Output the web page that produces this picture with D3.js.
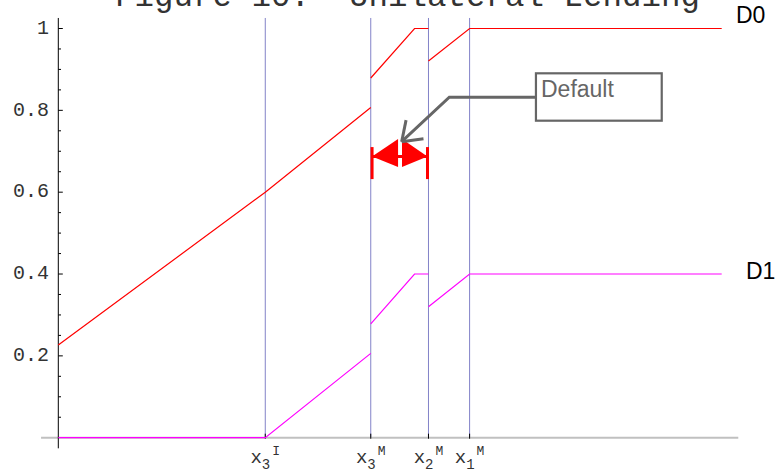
<!DOCTYPE html>
<html>
<head>
<meta charset="utf-8">
<script src="https://cdn.jsdelivr.net/npm/d3@7"></script>
<style>
  body { margin: 0; background: #fff; }
  .visual { width: 775px; height: 473px; position: relative; }
</style>
</head>
<body>
<div class="visual"></div>
<script>
// chart values
const titleText = "Figure 10:  Unilateral Lending";

const keyX = [31.2, 47.1, 55.8, 62.0];
const keySub = ["3", "3", "2", "1"];
const keySup = ["I", "M", "M", "M"];

const yMajor = [0.2, 0.4, 0.6, 0.8, 1];
const yMajorLabels = ["0.2", "0.4", "0.6", "0.8", "1"];
const yMinor = [0.05, 0.1, 0.15, 0.25, 0.3, 0.35, 0.45, 0.5, 0.55, 0.65, 0.7, 0.75, 0.85, 0.9, 0.95];

// null breaks the line at a jump
const d0X = [0, 31.2, 47.1, null, 47.1, 53.7, 55.8, null, 55.8, 62.0, 100];
const d0Y = [0.2265, 0.6, 0.807, null, 0.879, 1, 1, null, 0.9206, 1, 1];
const d1X = [0, 31.2, 47.1, null, 47.1, 53.7, 55.8, null, 55.8, 62.0, 100];
const d1Y = [0, 0, 0.206, null, 0.278, 0.4, 0.4, null, 0.32, 0.4, 0.4];

const defaultSpan = [47.1, 55.8];
const defaultLevel = 0.687;

function display() {
    const svg = d3.select(".visual")
        .append("svg")
        .attr("width", 775)
        .attr("height", 473);

    const x = d3.scaleLinear().domain([0, 100]).range([58.3, 721.7]);
    const y = d3.scaleLinear().domain([0, 1]).range([437.7, 28.5]);

    const mono = "'Liberation Mono', 'Courier New', monospace";
    const sans = "'Liberation Sans', Arial, sans-serif";

    // title (cut off at the top like the source)
    svg.append("text")
        .attr("x", 115)
        .attr("y", 6)
        .attr("xml:space", "preserve")
        .style("white-space", "pre")
        .style("font-family", mono)
        .style("font-size", "32.5px")
        .style("fill", "#333")
        .text(titleText);

    // vertical reference lines
    svg.append("g").selectAll("line")
        .data(keyX)
        .enter()
        .append("line")
        .attr("x1", d => x(d)).attr("x2", d => x(d))
        .attr("y1", y(1.0257)).attr("y2", y(0))
        .attr("stroke", "#8282c8")
        .attr("stroke-width", 1);

    // x axis
    svg.append("line")
        .attr("x1", x(-2.6)).attr("x2", x(102.5))
        .attr("y1", y(0)).attr("y2", y(0))
        .attr("stroke", "#c0c0c0")
        .attr("stroke-width", 2);

    svg.append("g").selectAll("line")
        .data(keyX)
        .enter()
        .append("line")
        .attr("x1", d => x(d)).attr("x2", d => x(d))
        .attr("y1", y(0) - 4).attr("y2", y(0) + 1)
        .attr("stroke", "#000")
        .attr("stroke-width", 1);

    const xl = svg.append("g").selectAll("text")
        .data(keyX)
        .enter()
        .append("text")
        .attr("x", d => x(d))
        .attr("y", 463)
        .attr("text-anchor", "middle")
        .style("font-family", mono)
        .style("font-size", "19px")
        .style("fill", "#333");
    xl.append("tspan").text("x");
    xl.append("tspan").attr("dy", 6).style("font-size", "14px").text((d, i) => keySub[i]);
    xl.append("tspan").attr("dy", -14).attr("dx", 2).style("font-size", "13px").text((d, i) => keySup[i]);

    // y axis
    svg.append("line")
        .attr("x1", x(0)).attr("x2", x(0))
        .attr("y1", y(-0.026)).attr("y2", y(1.0257))
        .attr("stroke", "#000")
        .attr("stroke-width", 1);

    svg.append("g").selectAll("line")
        .data(yMajor)
        .enter()
        .append("line")
        .attr("x1", x(0)).attr("x2", x(0) + 4.5)
        .attr("y1", d => y(d)).attr("y2", d => y(d))
        .attr("stroke", "#000");

    svg.append("g").selectAll("line")
        .data(yMinor)
        .enter()
        .append("line")
        .attr("x1", x(0)).attr("x2", x(0) + 2.7)
        .attr("y1", d => y(d)).attr("y2", d => y(d))
        .attr("stroke", "#000");

    svg.append("g").selectAll("text")
        .data(yMajor)
        .enter()
        .append("text")
        .attr("x", 49)
        .attr("y", d => y(d))
        .attr("text-anchor", "end")
        .attr("dominant-baseline", "middle")
        .style("font-family", mono)
        .style("font-size", "20px")
        .style("fill", "#333")
        .text((d, i) => yMajorLabels[i]);

    // series
    const line = d3.line()
        .defined(p => p[0] !== null)
        .x(p => x(p[0]))
        .y(p => y(p[1]));

    svg.append("path")
        .attr("d", line(d1X.map((v, i) => [v, d1Y[i]])))
        .attr("fill", "none")
        .attr("stroke", "#ff00ff")
        .attr("stroke-width", 1.2);

    svg.append("path")
        .attr("d", line(d0X.map((v, i) => [v, d0Y[i]])))
        .attr("fill", "none")
        .attr("stroke", "#ff0000")
        .attr("stroke-width", 1.2);

    svg.append("text")
        .attr("x", 736).attr("y", 23)
        .style("font-family", sans)
        .style("font-size", "23px")
        .text("D0");

    svg.append("text")
        .attr("x", 746).attr("y", 279)
        .style("font-family", sans)
        .style("font-size", "23px")
        .text("D1");

    // red double arrow marking the default zone
    const ax0 = x(defaultSpan[0]) + 1.3;
    const ax1 = x(defaultSpan[1]) - 1;
    const ay = y(defaultLevel);
    const red = svg.append("g").attr("fill", "#ff0000").attr("stroke", "#ff0000");
    red.append("line")
        .attr("x1", ax0).attr("x2", ax1).attr("y1", ay).attr("y2", ay)
        .attr("stroke-width", 3);
    [ax0, ax1].forEach(bx => {
        red.append("line")
            .attr("x1", bx).attr("x2", bx).attr("y1", ay - 9.5).attr("y2", ay + 22.5)
            .attr("stroke-width", 3);
    });
    red.append("path")
        .attr("stroke", "none")
        .attr("d", `M${ax0},${ay}L${ax0 + 26},${ay - 17.5}L${ax0 + 26},${ay + 10.5}Z`);
    red.append("path")
        .attr("stroke", "none")
        .attr("d", `M${ax1},${ay}L${ax1 - 25.5},${ay - 17.5}L${ax1 - 25.5},${ay + 10.5}Z`);

    // "Default" callout
    const grey = "#666";
    svg.append("rect")
        .attr("x", x(72.0)).attr("y", y(0.8905))
        .attr("width", x(90.96) - x(72.0))
        .attr("height", y(0.7747) - y(0.8905))
        .attr("fill", "#fff")
        .attr("stroke", grey)
        .attr("stroke-width", 2.2);

    svg.append("text")
        .attr("x", x(72.76)).attr("y", y(0.832))
        .style("font-family", sans)
        .style("font-size", "23px")
        .style("fill", grey)
        .text("Default");

    const tip = [x(51.76), y(0.7234)];
    const elbow = [x(58.94), y(0.832)];
    svg.append("path")
        .attr("d", `M${x(72.0)},${y(0.832)}L${elbow[0]},${elbow[1]}L${tip[0]},${tip[1]}`)
        .attr("fill", "none")
        .attr("stroke", grey)
        .attr("stroke-width", 3);

    const ang = Math.atan2(elbow[1] - tip[1], elbow[0] - tip[0]);
    [-0.62, 0.62].forEach(da => {
        svg.append("line")
            .attr("x1", tip[0]).attr("y1", tip[1])
            .attr("x2", tip[0] + 22 * Math.cos(ang + da))
            .attr("y2", tip[1] + 22 * Math.sin(ang + da))
            .attr("stroke", grey)
            .attr("stroke-width", 3);
    });
}

display();
</script>
</body>
</html>
